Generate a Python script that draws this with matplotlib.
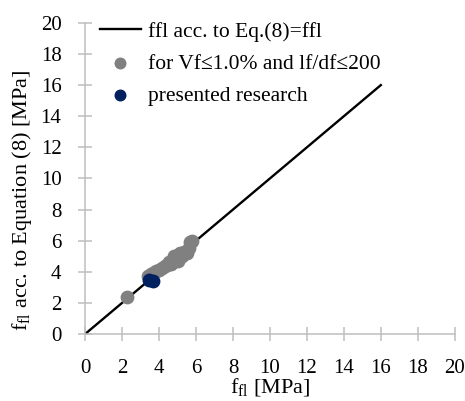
import numpy as np
import matplotlib.pyplot as plt

plt.rcParams['font.family'] = 'Liberation Serif'
plt.rcParams['mathtext.fontset'] = 'custom'
plt.rcParams['mathtext.rm'] = 'Liberation Serif'

# reference line ffl = ffl
line_x = [0, 16]
line_y = [0, 16]

# literature data, Vf <= 1.0 % and lf/df <= 200
lit_x = [2.25, 3.4, 3.55, 3.7, 3.85, 4.0, 4.15, 4.3, 4.45, 4.55, 4.65, 4.75,
         4.8, 4.9, 5.0, 5.05, 5.15, 5.25, 5.35, 5.5, 5.6, 5.7, 5.8]
lit_y = [2.35, 3.75, 3.85, 3.95, 4.05, 4.1, 4.25, 4.35, 4.45, 4.6, 4.5, 4.7,
         5.0, 4.8, 5.1, 4.7, 5.2, 5.0, 5.3, 5.2, 5.5, 5.9, 6.0]

# own test results
own_x = [3.45, 3.7]
own_y = [3.45, 3.4]

fig = plt.figure(figsize=(4.65, 4.01), dpi=100)
ax = fig.add_axes([0.183, 0.167, 0.795, 0.776])

ax.plot(line_x, line_y, color='black', lw=1.7, label='ffl acc. to Eq.(8)=ffl', zorder=2)
ax.scatter(lit_x, lit_y, s=80, color='#808080', label='for Vf\u22641.0% and lf/df\u2264200', zorder=3)
ax.scatter(own_x, own_y, s=80, color='#002060', label='presented research', zorder=4)

ax.set_xlim(0, 20)
ax.set_ylim(0, 20)
ax.set_xticks(np.arange(0, 21, 2))
ax.set_yticks(np.arange(0, 21, 2))

for side in ['top', 'right']:
    ax.spines[side].set_visible(False)
for side in ['left', 'bottom']:
    ax.spines[side].set_color('#BFBFBF')
    ax.spines[side].set_linewidth(1.1)
ax.tick_params(direction='inout', length=10, width=1.1, color='#BFBFBF',
               labelsize=15)
ax.tick_params(axis='y', pad=12)
ax.tick_params(axis='x', pad=13)

ax.set_xlabel(r'f$_{\mathrm{fl}}$ [MPa]', fontsize=16, va='center')
ax.xaxis.set_label_coords(0.5, -0.174)
ax.set_ylabel(r'f$_{\mathrm{fl}}$ acc. to Equation (8) [MPa]', fontsize=16, va='center')
ax.yaxis.set_label_coords(-0.171, 0.43)

ax.legend(loc='upper left', frameon=False, fontsize=15.5, handlelength=1.9,
          handletextpad=0.35, labelspacing=0.55, borderpad=0, borderaxespad=0,
          markerscale=0.85, bbox_to_anchor=(0.04, 1.003))

fig.savefig('out.png', dpi=100)
